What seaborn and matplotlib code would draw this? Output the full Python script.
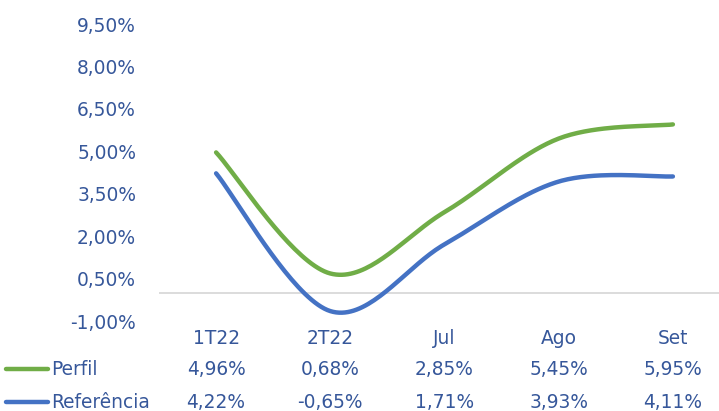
import numpy as np
import pandas as pd
import matplotlib
matplotlib.use("Agg")
import matplotlib.pyplot as plt
import matplotlib.transforms as mtransforms
from matplotlib.lines import Line2D
import seaborn as sns

categories = ["1T22", "2T22", "Jul", "Ago", "Set"]
perfil = [4.96, 0.68, 2.85, 5.45, 5.95]
referencia = [4.22, -0.65, 1.71, 3.93, 4.11]
series_names = ["Perfil", "Referência"]
series_colors = ["#70AD47", "#4472C4"]
y_ticks = [-1.0, 0.5, 2.0, 3.5, 5.0, 6.5, 8.0, 9.5]

TEXT_COLOR = "#36579A"
FS = 13.4


def smooth_curve(values, n=40):
    # Excel-like smoothed line: cubic Bezier with Catmull-Rom control points
    pts = np.column_stack([np.arange(len(values), dtype=float), np.asarray(values, float)])
    out = []
    for i in range(len(pts) - 1):
        p0 = pts[i - 1] if i > 0 else pts[i]
        p1, p2 = pts[i], pts[i + 1]
        p3 = pts[i + 2] if i + 2 < len(pts) else pts[i + 1]
        c1 = p1 + (p2 - p0) / 6
        c2 = p2 - (p3 - p1) / 6
        t = np.linspace(0, 1, n)[:, None]
        seg = ((1 - t) ** 3) * p1 + 3 * ((1 - t) ** 2) * t * c1 + 3 * (1 - t) * t ** 2 * c2 + t ** 3 * p2
        out.append(seg if i == 0 else seg[1:])
    return np.vstack(out)


def fmt_pct(v):
    return f"{v:.2f}%".replace(".", ",")


sns.set_style("white")
plt.rcParams["font.family"] = ["DejaVu Sans"]

frames = []
for name, vals in zip(series_names, [perfil, referencia]):
    curve = smooth_curve(vals)
    frames.append(pd.DataFrame({"x": curve[:, 0], "y": curve[:, 1], "serie": name}))
df = pd.concat(frames, ignore_index=True)

fig = plt.figure(figsize=(7.19, 4.11), dpi=100)
ax = fig.add_axes([159 / 719, 90 / 411, 571 / 719, 297 / 411])

ax.axhline(0, color="#D9D9D9", lw=1.3, zorder=1)

sns.lineplot(
    data=df,
    x="x",
    y="y",
    hue="serie",
    palette=dict(zip(series_names, series_colors)),
    sort=False,
    estimator=None,
    lw=3.2,
    legend=False,
    ax=ax,
    zorder=3,
)

ax.set_xlim(-0.5, len(categories) - 0.5)
ax.set_ylim(-1.0, 9.5)
ax.set_yticks(y_ticks)
ax.set_yticklabels([fmt_pct(v) for v in y_ticks], color=TEXT_COLOR, fontsize=FS)
ax.tick_params(axis="y", length=0, pad=16.5)
ax.set_xticks([])
ax.set_xlabel("")
ax.set_ylabel("")
for s in ax.spines.values():
    s.set_visible(False)

# data table under the chart
trans = mtransforms.blended_transform_factory(ax.transData, fig.transFigure)
row_y = [1 - 338 / 411, 1 - 369 / 411, 1 - 402 / 411]
for i, cat in enumerate(categories):
    ax.text(i, row_y[0], cat, transform=trans, ha="center", va="center",
            color=TEXT_COLOR, fontsize=FS, clip_on=False)
    ax.text(i, row_y[1], fmt_pct(perfil[i]), transform=trans, ha="center", va="center",
            color=TEXT_COLOR, fontsize=FS, clip_on=False)
    ax.text(i, row_y[2], fmt_pct(referencia[i]), transform=trans, ha="center", va="center",
            color=TEXT_COLOR, fontsize=FS, clip_on=False)

for name, color, y in zip(series_names, series_colors, row_y[1:]):
    fig.add_artist(Line2D([6 / 719, 48 / 719], [y, y], color=color, lw=3.2,
                          transform=fig.transFigure))
    fig.text(51 / 719, y, name, ha="left", va="center", color=TEXT_COLOR, fontsize=FS)

fig.savefig("out.png", dpi=100)
